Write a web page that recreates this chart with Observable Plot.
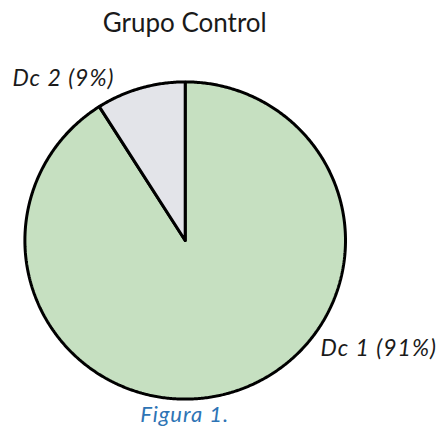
<!DOCTYPE html>
<html>
<head>
<meta charset="utf-8">
<script src="https://cdn.jsdelivr.net/npm/d3@7"></script>
<script src="https://cdn.jsdelivr.net/npm/@observablehq/plot@0.6"></script>
<style>
  html, body { margin: 0; padding: 0; background: #fff; width: 438px; height: 429px; overflow: hidden; }
  body { position: relative; font-family: Lato, "Open Sans", sans-serif; }
  #title { position: absolute; left: 0; top: 9px; width: 369.4px; text-align: center; font-size: 26px; line-height: 26px; color: #1a1a1a; }
  #chart { position: absolute; left: 0; top: 44px; }
  #caption { position: absolute; left: 0; top: 403px; width: 369.4px; text-align: center; font-size: 22px; line-height: 22px; letter-spacing: 1px; font-style: italic; color: #2e74b5; }
</style>
</head>
<body>
<div id="title">Grupo Control</div>
<div id="chart"></div>
<div id="caption">Figura 1.</div>
<script>
const categories = ["Dc 1", "Dc 2"];
const percents = [91, 9];
const labels = ["Dc 1 (91%)", "Dc 2 (9%)"];
const colors = ["#c6e0c1", "#e3e4e9"];

const pie = d3.pie().sort(null).value(d => d.value)(
  categories.map((c, i) => ({name: c, value: percents[i], label: labels[i], color: colors[i]}))
);

function slicePoints(s) {
  const pts = [{x: 0, y: 0}];
  const steps = Math.max(2, Math.ceil((s.endAngle - s.startAngle) / (Math.PI / 360)));
  for (let k = 0; k <= steps; k++) {
    const a = s.startAngle + (s.endAngle - s.startAngle) * k / steps;
    pts.push({x: Math.sin(a), y: Math.cos(a)});
  }
  pts.push({x: 0, y: 0});
  return pts;
}

const labelOffsets = {"Dc 1": {dx: 90.6, dy: -44, anchor: "start"}, "Dc 2": {dx: -26, dy: -9.7, anchor: "end"}};

const marks = [];
pie.forEach(s => {
  marks.push(Plot.line(slicePoints(s), {x: "x", y: "y", fill: s.data.color, stroke: "#000", strokeWidth: 3, strokeLinejoin: "miter"}));
});
pie.forEach(s => {
  const mid = (s.startAngle + s.endAngle) / 2;
  const o = labelOffsets[s.data.name];
  marks.push(Plot.text([{x: Math.sin(mid), y: Math.cos(mid), t: s.data.label}], {
    x: "x", y: "y", text: "t", textAnchor: o.anchor, dx: o.dx, dy: o.dy,
    fontSize: 23, fontStyle: "italic", fill: "#1a1a1a", fontFamily: "Lato, 'Open Sans', sans-serif"
  }));
});

const chart = Plot.plot({
  width: 438,
  height: 362,
  marginLeft: 24.4,
  marginRight: 93,
  marginTop: 37.4,
  marginBottom: 7.4,
  x: {domain: [-1, 1], axis: null},
  y: {domain: [-1, 1], axis: null},
  style: {background: "transparent", overflow: "visible", letterSpacing: "1px"},
  marks
});
document.getElementById("chart").appendChild(chart);
</script>
</body>
</html>
